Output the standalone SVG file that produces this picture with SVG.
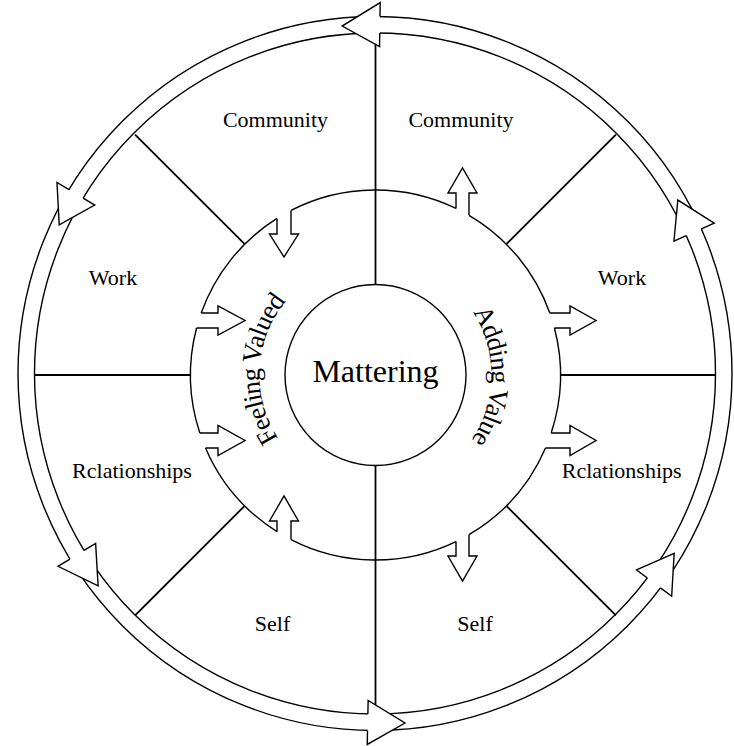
<svg xmlns="http://www.w3.org/2000/svg" width="734" height="746" viewBox="0 0 734 746">
<defs>
<style>
.ln{fill:none;stroke:#000;stroke-width:1.4;stroke-linejoin:miter}
.rad{fill:none;stroke:#000;stroke-width:1.8}
.hd{fill:#fff;stroke:none}
.lbl{font-family:"Liberation Serif","Times New Roman",serif;font-size:22px;fill:#000;text-anchor:middle}
.arc{font-family:"Liberation Serif","Times New Roman",serif;font-size:26.5px;letter-spacing:-0.9px;fill:#000;text-anchor:middle}
</style>
<path id="pL" d="M367.41,490.72 A116,116 0 0 1 379.55,259.07"/>
<path id="pR" d="M378.54,259.04 A116,116 0 0 1 376.51,490.99"/>
</defs>
<rect x="0" y="0" width="734" height="746" fill="#fff"/>

<g id="dividers">
<line class="rad" x1="375.5" y1="33" x2="375.5" y2="284.5"/>
<line class="rad" x1="375.5" y1="465.5" x2="375.5" y2="714"/>
<line class="rad" x1="34.5" y1="375" x2="190.5" y2="375"/>
<line class="rad" x1="560.5" y1="375" x2="715.5" y2="375"/>
<line class="rad" x1="244.7" y1="244.2" x2="135.1" y2="134.6"/>
<line class="rad" x1="506.3" y1="244.2" x2="615.9" y2="134.6"/>
<line class="rad" x1="244.7" y1="505.8" x2="135.1" y2="615.4"/>
<line class="rad" x1="506.3" y1="505.8" x2="615.9" y2="615.4"/>
</g>

<g id="outer-cycle">
<circle class="ln" cx="375" cy="373.5" r="340.5"/>
<circle class="ln" cx="375" cy="373.5" r="357"/>
<polygon class="hd" points="380.18,2.54 342.16,26.05 379.57,46.53"/>
<path class="ln" d="M379.98,16.54 L380.18,2.54 L342.16,26.05 L379.57,46.53 L379.75,33.03"/>
<polygon class="hd" points="56.99,182.42 59.21,224.9 94.71,205.08"/>
<path class="ln" d="M68.99,189.63 L56.99,182.42 L59.21,224.9 L94.71,205.08 L83.13,198.13"/>
<polygon class="hd" points="58.03,566.3 98.12,585.96 95.62,543.44"/>
<path class="ln" d="M69.99,559.03 L58.03,566.3 L98.12,585.96 L95.62,543.44 L84.09,550.45"/>
<polygon class="hd" points="368.15,700.43 405,723 367.23,744.42"/>
<path class="ln" d="M367.87,713.93 L368.15,700.43 L405,723 L367.23,744.42 L367.52,730.42"/>
<polygon class="hd" points="671.68,596.26 674.15,553.25 636.5,569.84"/>
<path class="ln" d="M660.49,587.85 L671.68,596.26 L674.15,553.25 L636.5,569.84 L647.29,577.94"/>
<polygon class="hd" points="673.96,241.02 677.85,200.06 714.19,223.19"/>
<path class="ln" d="M686.3,235.55 L673.96,241.02 L677.85,200.06 L714.19,223.19 L701.39,228.86"/>
</g>

<g id="sector-labels">
<text class="lbl" x="275.5" y="127">Community</text>
<text class="lbl" x="461" y="127">Community</text>
<text class="lbl" x="113" y="285">Work</text>
<text class="lbl" x="622" y="285">Work</text>
<text class="lbl" x="132" y="478">Rclationships</text>
<text class="lbl" x="621.7" y="478">Rclationships</text>
<text class="lbl" x="272.5" y="631">Self</text>
<text class="lbl" x="475" y="631">Self</text>
</g>

<g id="value-ring">
<path class="ln" d="M291,210.43 A185,185 0 0 1 456,208.43"/>
<path class="ln" d="M469,215.37 A185,185 0 0 1 549.8,313"/>
<path class="ln" d="M554.43,328 A185,185 0 0 1 551.17,433"/>
<path class="ln" d="M545.49,448 A185,185 0 0 1 469,534.63"/>
<path class="ln" d="M456,541.57 A185,185 0 0 1 291,539.57"/>
<path class="ln" d="M277,531.6 A185,185 0 0 1 205.51,448"/>
<path class="ln" d="M199.83,433 A185,185 0 0 1 196.57,328"/>
<path class="ln" d="M201.2,313 A185,185 0 0 1 277,218.4"/>
<text class="arc"><textPath href="#pL" startOffset="50%">Feeling Valued</textPath></text>
<text class="arc"><textPath href="#pR" startOffset="50%">Adding Value</textPath></text>
</g>

<g id="connectors">
<path class="ln" d="M277,218.4 L277,234 L269.5,234 L284,257 L298.5,234 L291,234 L291,210.43"/>
<path class="ln" d="M201.2,313 L218,313 L218,306 L245,320.5 L218,335 L218,328 L196.57,328"/>
<path class="ln" d="M199.83,433 L218,433 L218,425.5 L245,440.5 L218,455.5 L218,448 L205.51,448"/>
<path class="ln" d="M277,531.6 L277,521 L269.5,521 L284,496 L298.5,521 L291,521 L291,539.57"/>
<path class="ln" d="M456,208.43 L456,193 L448,193 L462.5,168 L477,193 L469,193 L469,215.37"/>
<path class="ln" d="M549.8,313 L570,313 L570,306 L596,320.5 L570,335 L570,328 L554.43,328"/>
<path class="ln" d="M551.17,433 L570,433 L570,425.5 L596,440.5 L570,455.5 L570,448 L545.49,448"/>
<path class="ln" d="M456,541.57 L456,556 L448,556 L462.5,581 L477,556 L469,556 L469,534.63"/>
</g>

<g id="mattering">
<circle class="ln" cx="375.5" cy="375" r="90.5" fill="#fff"/>
<text x="375.5" y="382" font-family="Liberation Serif, Times New Roman, serif" font-size="32" text-anchor="middle" fill="#000">Mattering</text>
</g>
</svg>
